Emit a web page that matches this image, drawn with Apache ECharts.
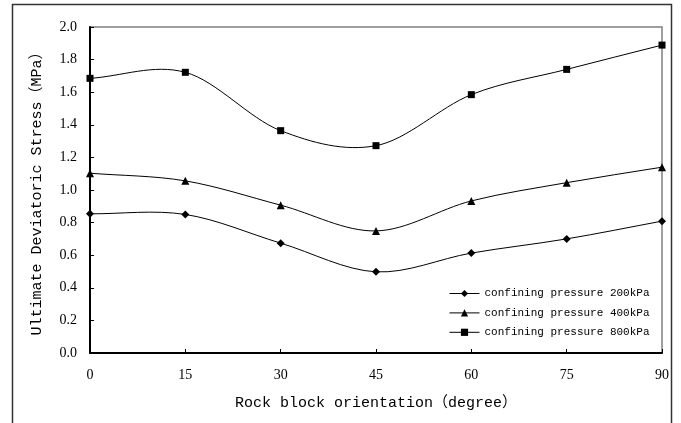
<!DOCTYPE html>
<html>
<head>
<meta charset="utf-8">
<script src="https://cdn.jsdelivr.net/npm/echarts@6/dist/echarts.min.js"></script>
<style>
  html, body { margin: 0; padding: 0; background: #fff; }
  #chart { width: 681px; height: 423px; }
</style>
</head>
<body>
<div id="chart"></div>
<script>
// Block orientation angles (degrees)
const orientations = [0, 15, 30, 45, 60, 75, 90];

// Ultimate deviatoric stress (MPa) at each confining pressure
const stress200 = [0.854, 0.850, 0.674, 0.498, 0.613, 0.700, 0.809];
const stress400 = [1.103, 1.056, 0.907, 0.749, 0.933, 1.045, 1.140];
const stress800 = [1.685, 1.722, 1.364, 1.272, 1.585, 1.740, 1.889];

const seriesNames = [
  'confining pressure 200kPa',
  'confining pressure 400kPa',
  'confining pressure 800kPa'
];

const pair = vals => orientations.map((x, i) => [x, vals[i]]);

const monoFont = '"Liberation Mono", "Noto Sans CJK SC", monospace';
const serifFont = '"Liberation Serif", "DejaVu Serif", serif';

// Markers only; the connecting curve is drawn by the custom series below
function markerSeries(name, vals, symbol, size) {
  return {
    name: name,
    type: 'line',
    data: pair(vals),
    symbol: symbol,
    symbolSize: size,
    showAllSymbol: true,
    lineStyle: { color: '#000', width: 1, opacity: 0 },
    itemStyle: { color: '#000', borderWidth: 0 },
    emphasis: { disabled: true },
    z: 4
  };
}

// Cardinal (Catmull-Rom) spline through the data points, one bezier per segment
function curveSeries(vals) {
  const n = vals.length;
  return {
    type: 'custom',
    data: pair(vals),
    silent: true,
    z: 3,
    renderItem: function (params, api) {
      const i = params.dataIndex;
      if (i >= n - 1) return null;
      const p = k => api.coord([orientations[k], vals[k]]);
      const p0 = p(Math.max(i - 1, 0));
      const p1 = p(i);
      const p2 = p(i + 1);
      const p3 = p(Math.min(i + 2, n - 1));
      const f1 = i === 0 ? 3 : 6;
      const f2 = i + 1 === n - 1 ? 3 : 6;
      return {
        type: 'bezierCurve',
        shape: {
          x1: p1[0], y1: p1[1],
          x2: p2[0], y2: p2[1],
          cpx1: p1[0] + (p2[0] - p0[0]) / f1,
          cpy1: p1[1] + (p2[1] - p0[1]) / f1,
          cpx2: p2[0] - (p3[0] - p1[0]) / f2,
          cpy2: p2[1] - (p3[1] - p1[1]) / f2
        },
        style: { fill: 'none', stroke: '#000', lineWidth: 1 }
      };
    }
  };
}

const chart = echarts.init(document.getElementById('chart'), null, { renderer: 'canvas' });

chart.setOption({
  animation: false,
  backgroundColor: '#fff',
  grid: {
    left: 90, top: 27, right: 19, bottom: 70,
    show: true, borderColor: '#808080', borderWidth: 1.5,
    backgroundColor: 'transparent'
  },
  graphic: [{
    type: 'rect',
    shape: { x: 12.5, y: 4.5, width: 659, height: 440 },
    style: { fill: 'none', stroke: '#333', lineWidth: 1.5 },
    silent: true, z: -1
  }],
  legend: {
    orient: 'vertical',
    left: 449,
    top: 288,
    itemWidth: 30,
    itemHeight: 9,
    itemGap: 8.4,
    padding: 0,
    data: seriesNames,
    lineStyle: { color: '#000', width: 1, opacity: 1 },
    textStyle: { fontFamily: monoFont, fontSize: 11, color: '#000' },
    inactiveColor: '#000'
  },
  xAxis: {
    type: 'value',
    min: 0, max: 90, interval: 15,
    name: 'Rock block orientation（degree）',
    nameLocation: 'middle',
    nameGap: 43,
    nameTextStyle: { fontFamily: monoFont, fontSize: 15, color: '#000' },
    axisLine: { show: true, lineStyle: { color: '#000', width: 2 } },
    axisTick: { show: true, inside: true, length: 4, lineStyle: { color: '#000', width: 1 } },
    axisLabel: { fontFamily: serifFont, fontSize: 14, color: '#000', margin: 15 },
    splitLine: { show: false }
  },
  yAxis: {
    type: 'value',
    min: 0, max: 2, interval: 0.2,
    name: 'Ultimate Deviatoric Stress（MPa）',
    nameLocation: 'middle',
    nameGap: 45,
    nameTextStyle: { fontFamily: monoFont, fontSize: 15, color: '#000' },
    axisLine: { show: true, lineStyle: { color: '#000', width: 2 } },
    axisTick: { show: true, inside: true, length: 4, lineStyle: { color: '#000', width: 1 } },
    axisLabel: {
      fontFamily: serifFont, fontSize: 14, color: '#000', margin: 13,
      formatter: v => v.toFixed(1)
    },
    splitLine: { show: false }
  },
  series: [
    curveSeries(stress200),
    curveSeries(stress400),
    curveSeries(stress800),
    markerSeries(seriesNames[0], stress200, 'diamond', 8),
    markerSeries(seriesNames[1], stress400, 'triangle', 8),
    markerSeries(seriesNames[2], stress800, 'rect', 7)
  ]
});
</script>
</body>
</html>
